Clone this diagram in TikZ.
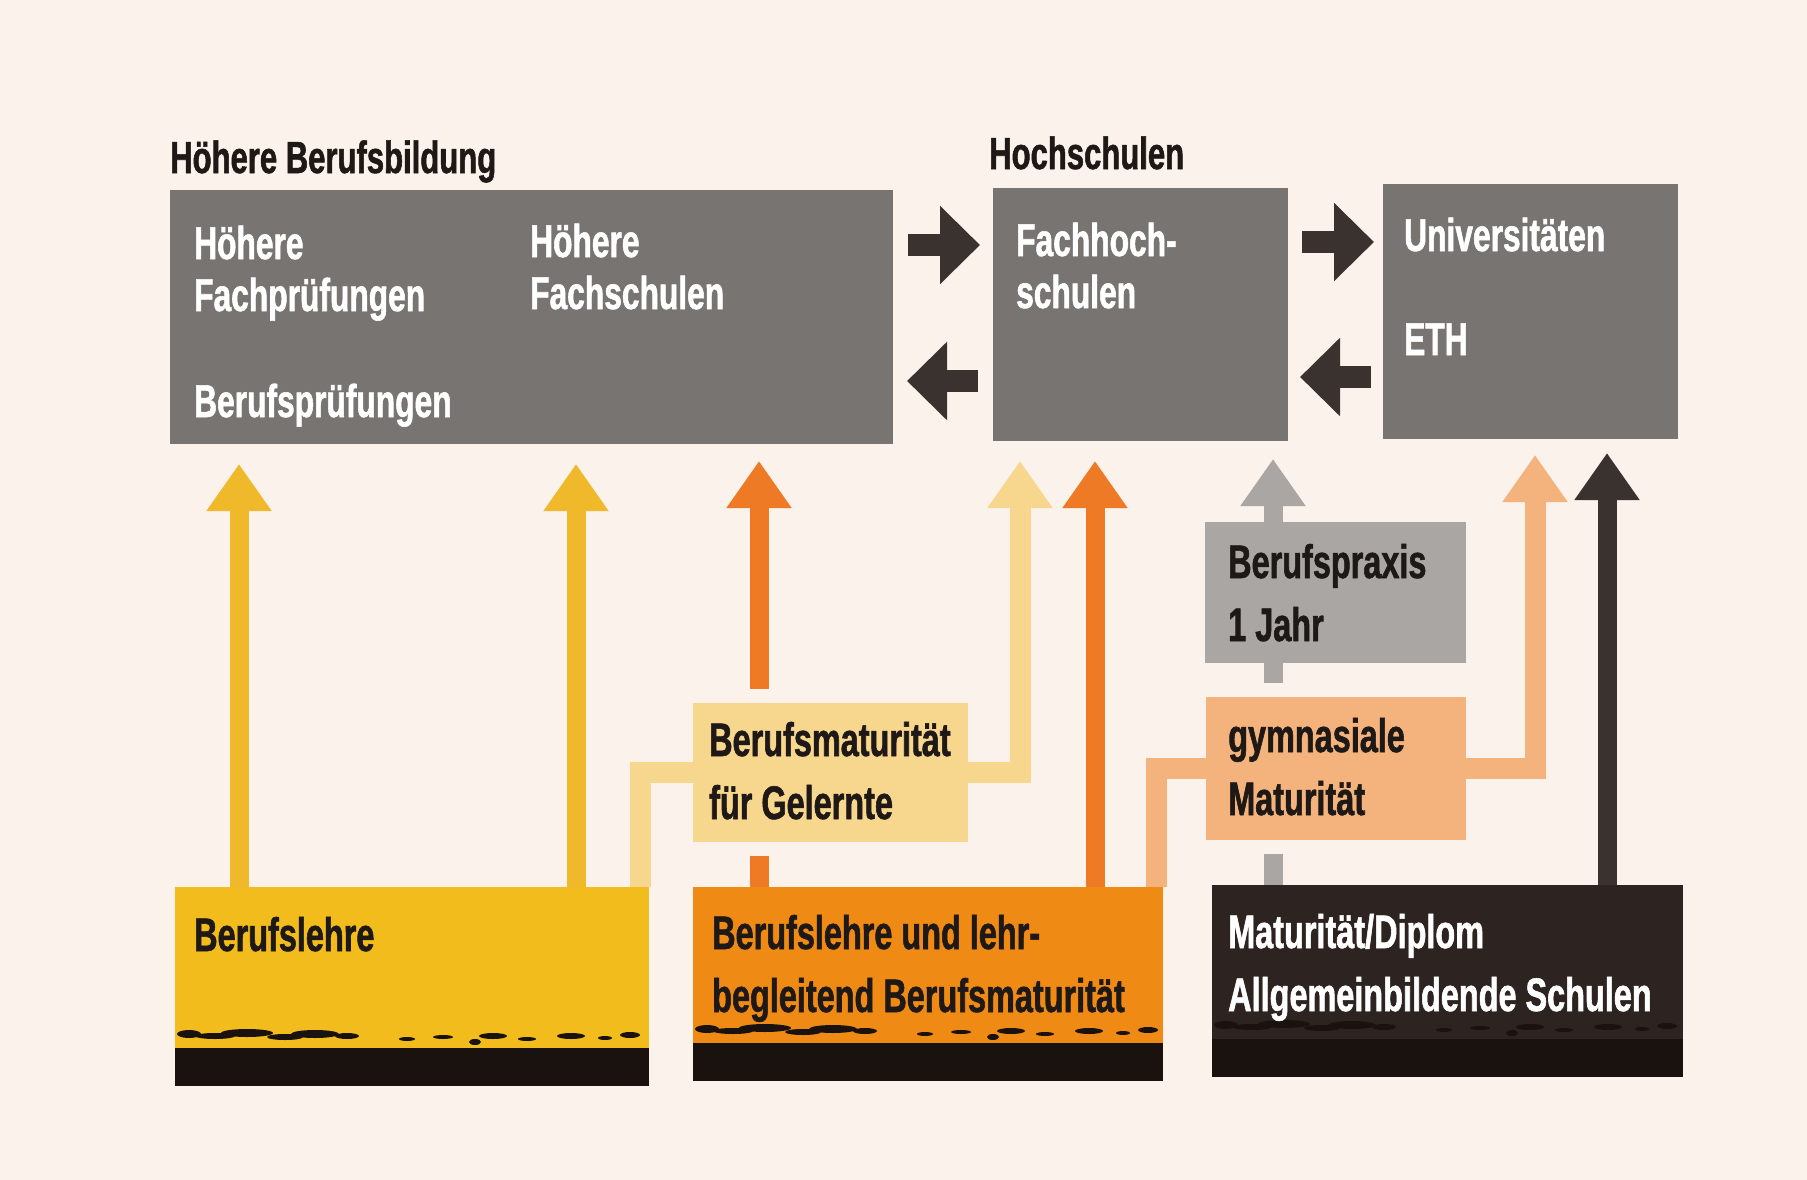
\documentclass[tikz,border=0pt]{standalone}
\usepackage{fontspec}
\newfontfamily\swiss[FakeStretch=0.69,FakeBold=1.2]{Liberation Sans}
\usetikzlibrary{arrows.meta,positioning}
\definecolor{paper}{HTML}{FAF2EB}
\definecolor{slate}{HTML}{777472}
\definecolor{ink}{HTML}{1E1916}
\definecolor{soot}{HTML}{3A322E}
\definecolor{gold}{HTML}{F2BC1C}
\definecolor{goldline}{HTML}{F0B92C}
\definecolor{tangerine}{HTML}{EF8A14}
\definecolor{rust}{HTML}{EE7A26}
\definecolor{cream}{HTML}{F7D68E}
\definecolor{apricot}{HTML}{F4B27C}
\definecolor{ash}{HTML}{A9A6A3}
\definecolor{night}{HTML}{2D2421}
\definecolor{mud}{HTML}{1A120E}
\pgfdeclarelayer{paper}
\pgfdeclarelayer{flow}
\pgfsetlayers{paper,flow,main}
\tikzset{
box/.style={rectangle,inner sep=0pt,outer sep=0pt,anchor=north west},
greybox/.style={box,fill=slate},
halo/.style={preaction={draw=paper,line width=28pt}},
txt/.style={anchor=base west,inner sep=0pt,align=left,text=ink,
  font=\swiss\bfseries\fontsize{47}{63}\selectfont},
head/.style={txt,font=\swiss\bfseries\fontsize{45}{52}\selectfont},
wtxt/.style={txt,text=white,font=\swiss\bfseries\fontsize{46}{52}\selectfont},
up/.style={line width=19pt,-{Triangle[width=62pt,length=47pt]}},
band/.style={line width=21pt},
push/.style={line width=22pt,soot,-{Triangle[width=76pt,length=40pt]}}
}

\begin{document}
\begin{tikzpicture}[x=1pt,y=-1pt]
\begin{pgfonlayer}{paper}
\fill[paper] (0,0) rectangle (1807,1180);
\end{pgfonlayer}
\useasboundingbox (0,0) rectangle (1807,1180);

% top row
\node[head] (thb) at (170,173) {Höhere Berufsbildung};
\node[head] (ths) at (989,169) {Hochschulen};
\node[greybox,minimum width=723pt,minimum height=254pt] (hbb) at (170,190) {};
\node[greybox,minimum width=295pt,minimum height=253pt] (fh) at (993,188) {};
\node[greybox,minimum width=295pt,minimum height=255pt] (uni) at (1383,184) {};
\node[wtxt] (hfp) at (194,311) {Höhere\\Fachprüfungen};
\node[wtxt] (hfs) at (530,309) {Höhere\\Fachschulen};
\node[wtxt] (bp) at (194,417) {Berufsprüfungen};
\node[wtxt] (fht) at (1016,308) {Fachhoch-\\schulen};
\node[wtxt] (unit) at (1404,251) {Universitäten};
\node[wtxt] (eth) at (1404,355) {ETH};

% middle boxes
\node[box,fill=ash,minimum width=261pt,minimum height=141pt] (prx) at (1205,522) {};
\node[box,fill=apricot,halo,minimum width=260pt,minimum height=143pt] (gm) at (1206,697) {};
\node[box,fill=cream,halo,minimum width=275pt,minimum height=139pt] (bm) at (693,703) {};
\node[txt] (prxt) at (1228,641) {Berufspraxis\\1 Jahr};
\node[txt] (gmt) at (1228,815) {gymnasiale\\Maturität};
\node[txt] (bmt) at (709,819) {Berufsmaturität\\für Gelernte};

% bottom row
\node[box,fill=gold,minimum width=474pt,minimum height=199pt] (bl) at (175,887) {};
\node[box,fill=tangerine,minimum width=470pt,minimum height=194pt] (ob) at (693,887) {};
\node[box,fill=night,minimum width=471pt,minimum height=192pt] (mb) at (1212,885) {};
\foreach \b in {bl,ob,mb}{
  \fill[mud] ([yshift=38pt]\b.south west) rectangle (\b.south east);
  \foreach \dx/\dy/\w/\h in {14/52/12/4,40/50/20/3,72/53/26/4,110/49/18/3,140/52/24/4,
                             172/50/12/3,232/47/8/2,268/49/10/2,300/44/6/3,318/50/14/3,
                             352/47/9/2,396/50/14/3,430/48/7/2,455/51/10/3}
    \fill[mud] ([xshift=\dx pt,yshift=\dy pt]\b.south west) ellipse ({\w} and {\h});
}
\node[txt] (blt) at (194,951) {Berufslehre};
\node[txt] (obt) at (712,1012) {Berufslehre und lehr-\\begleitend Berufsmaturität};
\node[txt,text=white] (mbt) at (1228,1011) {Maturität/Diplom\\Allgemeinbildende Schulen};

% feet of the vertical arrows
\coordinate (f1) at ([xshift=64pt]bl.north west);
\coordinate (f2) at ([xshift=401pt]bl.north west);
\coordinate (f3) at ([xshift=66pt]ob.north west);
\coordinate (f5) at ([xshift=402pt]ob.north west);
\coordinate (f7) at ([xshift=61pt]mb.north west);
\coordinate (f8) at ([xshift=395pt]mb.north west);
\coordinate (r1) at ([yshift=-55pt]hbb.north east);
\coordinate (l1) at ([yshift=-191pt]hbb.north east);
\coordinate (r2) at ([yshift=-54pt]fh.north east);
\coordinate (l2) at ([yshift=-189pt]fh.north east);

\begin{pgfonlayer}{flow}
\draw[up,goldline,shorten >=20pt] (f1) -- (f1 |- hbb.south);
\draw[up,goldline,shorten >=20pt] (f2) -- (f2 |- hbb.south);
\draw[up,rust,shorten >=17pt] (f3) -- (f3 |- hbb.south);
\draw[up,rust,shorten >=20pt] (f5) -- (f5 |- fh.south);
\draw[up,ash,shorten >=18pt] (f7) -- (f7 |- fh.south);
\draw[up,soot,shorten >=14pt] (f8) -- (f8 |- uni.south);
\end{pgfonlayer}

% Maturitaet branches
\draw[band,cream] ([xshift=-9pt]bl.north east) |- (bm.west);
\draw[up,band,cream,shorten >=20pt] (bm.east) -| ([xshift=27pt]fh.south west);
\draw[band,apricot] ([xshift=-7pt]ob.north east) |- (gm.west);
\draw[up,band,apricot,shorten >=16pt] (gm.east) -| ([xshift=152pt]uni.south west);

% between the top boxes
\draw[push,shorten <=15pt,shorten >=13pt] (r1) -- (r1 -| fh.west);
\draw[push,shorten <=15pt,shorten >=14pt] (l1 -| fh.west) -- (l1);
\draw[push,shorten <=14pt,shorten >=9pt] (r2) -- (r2 -| uni.west);
\draw[push,shorten <=12pt,shorten >=12pt] (l2 -| uni.west) -- (l2);
\end{tikzpicture}
\end{document}
